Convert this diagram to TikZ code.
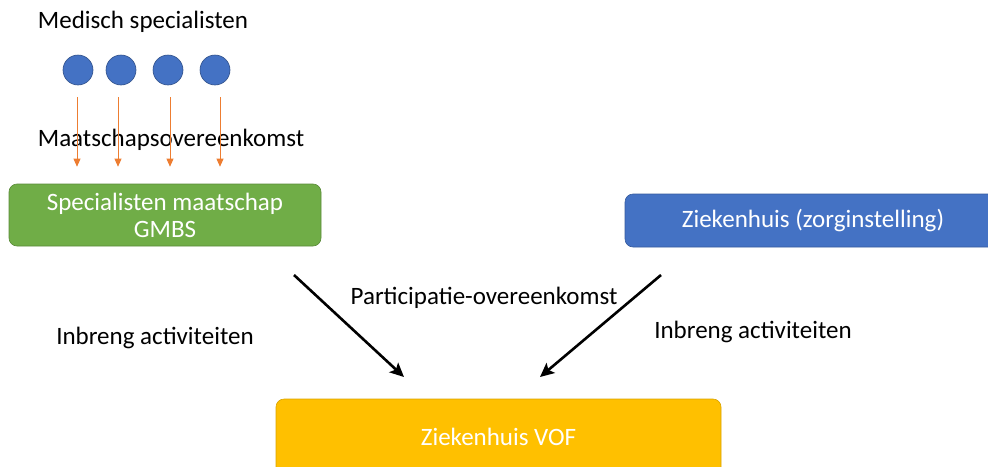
\documentclass[tikz,border=0pt]{standalone}
\usepackage{fontspec}
\setmainfont{Carlito}
\usetikzlibrary{arrows.meta,calc}
\definecolor{specblue}{HTML}{4472C4}
\definecolor{specgreen}{HTML}{70AD47}
\definecolor{vofyellow}{HTML}{FFC000}
\definecolor{linkorange}{HTML}{ED7D31}
\begin{document}
\begin{tikzpicture}[x=1pt,y=-1pt,
    every node/.style={font=\fontsize{25}{27}\selectfont},
    label/.style={text=black},
    person/.style={circle,fill=specblue,draw=specblue!70!black,line width=0.6pt,minimum size=30pt,inner sep=0pt},
    partybox/.style={rounded corners=8pt,line width=0.6pt,text=white,align=center,inner sep=0pt},
    orangearrow/.style={draw=linkorange,line width=0.8pt,-{Triangle[length=8pt,width=7pt]}},
    blackarrow/.style={line width=2.6pt,-{Stealth[length=14pt,width=13pt,inset=3pt]}}]
    \useasboundingbox (0,0) rectangle (988,466);

    \node[label] (title) at (143, 22) {Medisch specialisten};

    \node[person] (c1) at (78, 70) {};
    \node[person] (c2) at (121, 70) {};
    \node[person] (c3) at (168, 70) {};
    \node[person] (c4) at (215, 70) {};

    \node[label] (maatschap) at (171, 140) {Maatschapsovereenkomst};

    \node[partybox,fill=specgreen,draw=specgreen!80!black,minimum width=312pt,minimum height=62pt] (gmbs) at (165, 215) {Specialisten maatschap\\GMBS};
    \node[partybox,fill=specblue,draw=specblue!80!black,minimum width=376pt,minimum height=53pt] (zkh) at (813, 220.5) {Ziekenhuis (zorginstelling)};
    \node[partybox,fill=vofyellow,draw=vofyellow!85!black,minimum width=445pt,minimum height=76pt] (vof) at (498.5, 437) {Ziekenhuis VOF};

    \foreach \c/\dx in {c1/-1,c2/-3,c3/2,c4/5}
        \draw[orangearrow] ([xshift=\dx pt,yshift=-12pt]\c.south) -- ([xshift=\dx pt]\c.south |- gmbs.north) [shorten >=17pt];

    \coordinate (leftstart) at (294, 275);
    \coordinate (leftend) at (404, 377);
    \coordinate (rightstart) at (661, 275);
    \coordinate (rightend) at (540, 377);
    \draw[blackarrow] (leftstart) -- (leftend);
    \draw[blackarrow] (rightstart) -- (rightend);

    \node[label] (participatie) at (484, 298) {Participatie-overeenkomst};
    \node[label] (inbrengl) at (155, 338) {Inbreng activiteiten};
    \node[label] (inbrengr) at (753, 332) {Inbreng activiteiten};
\end{tikzpicture}
\end{document}
